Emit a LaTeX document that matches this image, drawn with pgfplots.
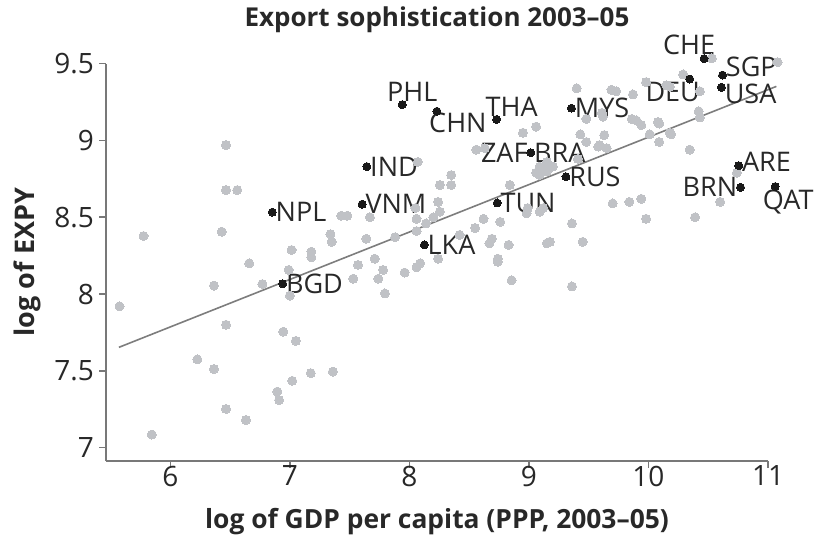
\documentclass[border=0pt]{standalone}
\usepackage{pgfplots}
\pgfplotsset{compat=1.18}
\usepackage{pgfplotstable}
\usepackage{fontspec}
\setmainfont{Open Sans}
\definecolor{dotgrey}{RGB}{192,194,198}
\definecolor{txt}{RGB}{40,40,40}
\definecolor{axgrey}{RGB}{120,120,120}
\definecolor{linegrey}{RGB}{125,125,125}
\tikzset{lbl/.style={inner sep=1.5pt, font=\fontsize{13.5}{15}\selectfont, text=txt}}

\pgfplotstableread{
x y
5.575 7.92
5.845 7.085
5.776 8.378
6.365 8.055
6.226 7.575
6.365 7.512
6.466 7.80
6.466 7.252
6.633 7.18
6.66 8.20
6.77 8.065
6.99 8.157
7.0 7.99
6.945 7.755
7.05 7.695
6.895 7.365
6.91 7.31
7.02 7.435
7.175 7.485
7.36 7.495
6.466 8.97
6.466 8.677
6.56 8.677
6.43 8.406
7.015 8.287
7.18 8.276
7.18 8.24
7.43 8.51
7.48 8.51
7.67 8.50
7.34 8.39
7.35 8.34
7.64 8.36
7.88 8.37
8.06 8.49
8.14 8.46
7.57 8.19
7.71 8.23
7.78 8.157
7.74 8.10
7.96 8.14
8.06 8.175
7.53 8.10
7.795 8.004
8.06 8.41
8.07 8.86
8.05 8.56
9.06 9.09
8.95 9.05
8.56 8.94
8.63 8.95
9.09 8.83
9.15 8.80
9.06 8.79
9.2 8.83
9.15 8.86
9.09 8.775
8.35 8.775
8.255 8.71
8.35 8.71
8.84 8.71
8.98 8.525
9.09 8.536
9.36 8.46
8.76 8.47
8.62 8.49
8.55 8.43
8.24 8.60
8.255 8.536
8.2 8.5
8.67 8.33
8.69 8.36
8.83 8.32
8.74 8.23
9.15 8.33
9.45 8.34
8.855 8.09
8.09 8.20
8.24 8.23
8.42 8.385
9.48 9.14
9.62 9.155
9.43 9.04
9.63 9.035
9.59 8.97
9.41 8.88
9.73 9.32
9.87 9.30
9.98 9.38
9.90 9.13
9.86 9.14
9.94 9.10
10.09 9.11
10.01 9.04
10.09 8.99
10.19 9.04
10.15 9.36
10.29 9.43
10.43 9.32
10.42 9.19
10.43 9.15
10.345 8.94
10.53 9.535
11.08 9.51
10.6 8.60
10.39 8.50
10.74 8.79
9.70 8.59
9.84 8.60
9.94 8.62
9.98 8.49
9.175 8.34
9.12 8.56
8.99 8.56
9.65 8.95
9.69 9.33
9.40 9.34
9.61 9.18
9.58 8.96
9.48 8.99
10.08 9.12
10.18 9.05
8.74 8.21
9.36 8.05
10.18 9.35
}\greydata

\pgfplotstableread{
x y
7.94 9.233
8.23 9.19
8.73 9.137
9.356 9.21
10.345 9.40
10.465 9.533
10.62 9.426
10.61 9.346
7.644 8.83
9.016 8.92
9.31 8.764
8.735 8.593
8.125 8.32
6.94 8.067
6.853 8.533
7.605 8.585
10.755 8.836
10.77 8.695
11.06 8.70
}\blackdata

\pgfplotstableread{
x y
5.57 7.653
11.07 9.352
}\fitline

\begin{document}
\begin{tikzpicture}
\begin{axis}[
  at={(0,0)}, anchor=south west,
  scale only axis,
  width=331pt, height=198.5pt,
  xmin=5.462, xmax=11,
  ymin=6.915, ymax=9.5,
  clip=false,
  axis x line=bottom, axis y line=left,
  axis line style={draw=axgrey, line width=1pt, -},
  xtick={6,7,8,9,10,11},
  ytick={7,7.5,8,8.5,9,9.5},
  tick style={draw=axgrey, line width=0.8pt},
  tick align=outside,
  major tick length=3.5pt,
  /pgf/number format/assume math mode=true,
  ticklabel style={font=\fontsize{14}{16}\selectfont, text=txt},
  xticklabel style={yshift=4.5pt},
  yticklabel style={xshift=1pt},
  xlabel={log of GDP per capita (PPP, 2003--05)},
  ylabel={log of EXPY},
  title={Export sophistication 2003--05},
  every axis x label/.style={at={([yshift=-30.5pt]axis description cs:0.5,0)}, anchor=center, font=\bfseries\fontsize{13.2}{15}\selectfont, text=txt},
  every axis y label/.style={at={([xshift=-39.5pt]axis description cs:0,0.5)}, anchor=center, rotate=90, font=\bfseries\fontsize{13.5}{15}\selectfont, text=txt},
  every axis title/.style={at={([yshift=22pt]axis description cs:0.5,1)}, anchor=center, font=\bfseries\fontsize{13}{15}\selectfont, text=txt},
]
\addplot[only marks, color=dotgrey, mark=*, mark size=2.25pt, mark options={draw=dotgrey, fill=dotgrey, line width=0pt}] table[x=x,y=y] {\greydata};
\addplot[draw=linegrey, line width=0.8pt, no marks] table[x=x,y=y] {\fitline};
\addplot[only marks, color=black!90, mark=*, mark size=2pt, mark options={draw=black!90, fill=black!90, line width=0pt}] table[x=x,y=y] {\blackdata};
\node[lbl, anchor=south, xshift=5pt] at (axis cs:7.94,9.233) {PHL};
\node[lbl, anchor=north, xshift=10.5pt, yshift=1pt] at (axis cs:8.23,9.19) {CHN};
\node[lbl, anchor=south, xshift=7.5pt] at (axis cs:8.73,9.137) {THA};
\node[lbl, anchor=west] at (axis cs:9.356,9.21) {MYS};
\node[lbl, anchor=north, xshift=-8.5pt] at (axis cs:10.345,9.40) {DEU};
\node[lbl, anchor=south, xshift=-7.5pt] at (axis cs:10.465,9.533) {CHE};
\node[lbl, anchor=west, inner sep=0.5pt, xshift=1pt, yshift=4pt] at (axis cs:10.62,9.426) {SGP};
\node[lbl, anchor=west, inner sep=0.5pt, xshift=1pt, yshift=-3.5pt] at (axis cs:10.61,9.346) {USA};
\node[lbl, anchor=west] at (axis cs:7.644,8.83) {IND};
\node[lbl, anchor=east] at (axis cs:9.016,8.92) {ZAF};
\node[lbl, anchor=west] at (axis cs:9.016,8.92) {BRA};
\node[lbl, anchor=west] at (axis cs:9.31,8.764) {RUS};
\node[lbl, anchor=west] at (axis cs:8.735,8.593) {TUN};
\node[lbl, anchor=west] at (axis cs:8.125,8.32) {LKA};
\node[lbl, anchor=west] at (axis cs:6.94,8.067) {BGD};
\node[lbl, anchor=west] at (axis cs:6.853,8.533) {NPL};
\node[lbl, anchor=west] at (axis cs:7.605,8.585) {VNM};
\node[lbl, anchor=west, yshift=2pt] at (axis cs:10.755,8.836) {ARE};
\node[lbl, anchor=east] at (axis cs:10.77,8.695) {BRN};
\node[lbl, anchor=north, xshift=6.5pt] at (axis cs:11.06,8.70) {QAT};
\end{axis}
\path[use as bounding box] (-53pt,-38pt) rectangle (355.5pt,229.5pt);
\end{tikzpicture}
\end{document}
